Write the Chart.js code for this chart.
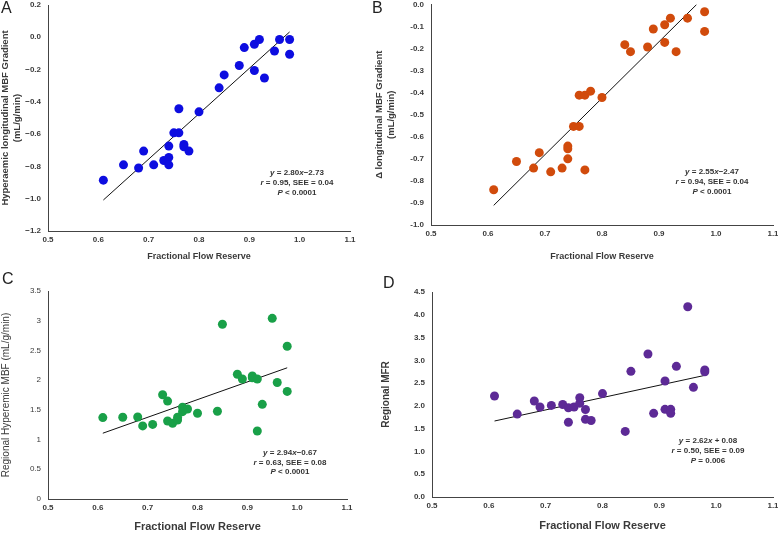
<!DOCTYPE html>
<html>
<head>
<meta charset="utf-8">
<script src="https://cdn.jsdelivr.net/npm/chart.js@4.4.1/dist/chart.umd.min.js"></script>
<style>
  body { margin: 0; background: #fff; }
  #wrap { position: relative; width: 778px; height: 534px; overflow: hidden; font-family: "Liberation Sans", Arial, sans-serif; }
  .panel { position: absolute; }
  .letter { position: absolute; font-size: 16px; line-height: 16px; color: #222; }
  .note { position: absolute; width: 130px; text-align: center; font-size: 8px; line-height: 10px; font-weight: bold; color: #333; }
</style>
</head>
<body>
<div id="wrap">
  <div class="panel" style="left:0;top:0;width:374px;height:265px"><canvas id="chartA"></canvas></div>
  <div class="panel" style="left:374px;top:0;width:404px;height:265px"><canvas id="chartB"></canvas></div>
  <div class="panel" style="left:0;top:262px;width:374px;height:272px"><canvas id="chartC"></canvas></div>
  <div class="panel" style="left:380px;top:262px;width:398px;height:272px"><canvas id="chartD"></canvas></div>

  <div class="letter" style="left:1px;top:0px">A</div>
  <div class="letter" style="left:372px;top:0px">B</div>
  <div class="letter" style="left:2px;top:271px">C</div>
  <div class="letter" style="left:383px;top:275px">D</div>

  <div class="note" style="left:232px;top:168px"><i>y</i> = 2.80<i>x</i>−2.73<br><i>r</i> = 0.95, SEE = 0.04<br><i>P</i> &lt; 0.0001</div>
  <div class="note" style="left:647px;top:167px"><i>y</i> = 2.55<i>x</i>−2.47<br><i>r</i> = 0.94, SEE = 0.04<br><i>P</i> &lt; 0.0001</div>
  <div class="note" style="left:225px;top:448px;line-height:9.5px"><i>y</i> = 2.94<i>x</i>−0.67<br><i>r</i> = 0.63, SEE = 0.08<br><i>P</i> &lt; 0.0001</div>
  <div class="note" style="left:643px;top:436px"><i>y</i> = 2.62<i>x</i> + 0.08<br><i>r</i> = 0.50, SEE = 0.09<br><i>P</i> = 0.006</div>
</div>

<script>
// ticks
const ffrTicks = [0.5, 0.6, 0.7, 0.8, 0.9, 1.0, 1.1];
const ticksA = [-1.2, -1.0, -0.8, -0.6, -0.4, -0.2, 0.0, 0.2];
const ticksB = [-1.0, -0.9, -0.8, -0.7, -0.6, -0.5, -0.4, -0.3, -0.2, -0.1, 0.0];
const ticksC = [0, 0.5, 1, 1.5, 2, 2.5, 3, 3.5];
const ticksD = [0.0, 0.5, 1.0, 1.5, 2.0, 2.5, 3.0, 3.5, 4.0, 4.5];

// A - hyperaemic longitudinal MBF gradient
const ffrA = [0.61, 0.65, 0.68, 0.69, 0.71, 0.73, 0.74, 0.74, 0.74, 0.75, 0.76, 0.76, 0.77, 0.77, 0.78, 0.80, 0.84, 0.85, 0.88, 0.89, 0.91, 0.91, 0.92, 0.93, 0.95, 0.96, 0.98, 0.98];
const gradA = [-0.885, -0.79, -0.81, -0.705, -0.79, -0.763, -0.744, -0.79, -0.674, -0.592, -0.592, -0.443, -0.664, -0.678, -0.705, -0.462, -0.313, -0.233, -0.175, -0.064, -0.043, -0.206, -0.014, -0.252, -0.085, -0.014, -0.014, -0.105];
const fitAx = [0.61, 0.98];
const fitAy = [-1.008, 0.033];

// B - delta longitudinal MBF gradient
const ffrB = [0.61, 0.65, 0.68, 0.69, 0.71, 0.73, 0.74, 0.74, 0.74, 0.75, 0.76, 0.76, 0.77, 0.77, 0.78, 0.80, 0.84, 0.85, 0.88, 0.89, 0.91, 0.91, 0.92, 0.93, 0.95, 0.98, 0.98];
const gradB = [-0.84, -0.712, -0.742, -0.672, -0.759, -0.742, -0.70, -0.642, -0.654, -0.553, -0.553, -0.411, -0.411, -0.75, -0.393, -0.422, -0.182, -0.214, -0.193, -0.111, -0.092, -0.172, -0.062, -0.214, -0.062, -0.033, -0.122];
const fitBx = [0.61, 0.966];
const fitBy = [-0.911, 0.0];

// C - regional hyperemic MBF
const ffrC = [0.61, 0.65, 0.68, 0.69, 0.71, 0.73, 0.74, 0.74, 0.75, 0.76, 0.76, 0.77, 0.77, 0.78, 0.80, 0.84, 0.85, 0.88, 0.89, 0.91, 0.91, 0.92, 0.92, 0.93, 0.95, 0.96, 0.98, 0.98];
const mbfC = [1.37, 1.375, 1.38, 1.23, 1.255, 1.754, 1.648, 1.313, 1.274, 1.375, 1.33, 1.543, 1.47, 1.514, 1.442, 1.476, 2.94, 2.10, 2.02, 2.07, 2.04, 2.02, 1.145, 1.593, 3.04, 1.96, 2.57, 1.81];
const fitCx = [0.61, 0.98];
const fitCy = [1.107, 2.208];

// D - regional MFR
const ffrD = [0.61, 0.65, 0.68, 0.69, 0.71, 0.73, 0.74, 0.74, 0.75, 0.76, 0.76, 0.77, 0.77, 0.78, 0.80, 0.84, 0.85, 0.88, 0.89, 0.91, 0.91, 0.92, 0.92, 0.93, 0.95, 0.96, 0.98, 0.98];
const mfrD = [2.217, 1.82, 2.107, 1.975, 2.01, 2.03, 1.96, 1.64, 1.975, 2.18, 2.06, 1.92, 1.705, 1.68, 2.27, 1.44, 2.758, 3.138, 1.836, 2.546, 1.924, 1.924, 1.836, 2.868, 4.177, 2.407, 2.79, 2.75];
const fitDx = [0.61, 0.98];
const fitDy = [1.668, 2.67];

const FONT = '"Liberation Sans", Arial, sans-serif';
const INK = '#3a3a3a';

function pares(xs, ys) {
  return xs.map((x, i) => ({ x, y: ys[i] }));
}

function crearPanel(id, p) {
  const ctx = document.getElementById(id).getContext('2d');
  return new Chart(ctx, {
    type: 'scatter',
    data: {
      datasets: [
        {
          data: pares(p.x, p.y),
          backgroundColor: p.color,
          borderWidth: 0,
          pointRadius: 4.5,
          pointHoverRadius: 4.5
        },
        {
          data: pares(p.fitX, p.fitY),
          showLine: true,
          borderColor: '#111',
          borderWidth: 1,
          pointRadius: 0,
          fill: false
        }
      ]
    },
    options: {
      responsive: true,
      maintainAspectRatio: false,
      animation: false,
      events: [],
      layout: { padding: { top: p.padTop, right: p.padRight, left: 0, bottom: 0 } },
      plugins: { legend: { display: false }, tooltip: { enabled: false } },
      scales: {
        x: {
          type: 'linear',
          min: 0.5,
          max: 1.1,
          afterBuildTicks: (s) => { s.ticks = ffrTicks.map(v => ({ value: v })); },
          afterFit: (s) => { s.height = p.xHeight; s.paddingLeft = 0; s.paddingRight = 0; },
          grid: { display: false, drawTicks: false },
          border: { display: true, color: '#444', width: 1 },
          ticks: {
            padding: 4,
            color: INK,
            font: { family: FONT, size: 8, weight: 'bold' },
            maxRotation: 0,
            callback: (v) => v.toFixed(1)
          },
          title: {
            display: true,
            text: 'Fractional Flow Reserve',
            color: INK,
            font: { family: FONT, size: p.xTitleSize, weight: 'bold' },
            padding: { top: 0, bottom: p.xTitlePad }
          }
        },
        y: {
          type: 'linear',
          min: p.yTicks[0],
          max: p.yTicks[p.yTicks.length - 1],
          afterBuildTicks: (s) => { s.ticks = p.yTicks.map(v => ({ value: v })); },
          afterFit: (s) => { s.width = p.yWidth; s.paddingTop = 0; s.paddingBottom = 0; },
          grid: { display: false, drawTicks: false },
          border: { display: true, color: '#444', width: 1 },
          ticks: {
            padding: 7,
            color: INK,
            font: { family: FONT, size: 8, weight: p.yTickWeight },
            callback: p.yFormat
          },
          title: {
            display: true,
            text: p.yTitle,
            color: INK,
            font: { family: FONT, size: p.yTitleSize, weight: p.yTitleWeight, lineHeight: 1.2 },
            padding: { top: 0, bottom: 0 }
          }
        }
      }
    }
  });
}

document.addEventListener('DOMContentLoaded', () => {
  crearPanel('chartA', {
    x: ffrA, y: gradA, fitX: fitAx, fitY: fitAy, color: '#0d0de0',
    yTicks: ticksA,
    yFormat: (v) => (v < -0.001 ? '\u2212' + Math.abs(v).toFixed(1) : Math.abs(v).toFixed(1)),
    yTitle: ['Hyperaemic longitudinal MBF Gradient', '(mL/g/min)'],
    yTitleSize: 9.5, yTitleWeight: 'bold', yTickWeight: 'bold',
    padTop: 5, padRight: 24, yWidth: 48, xHeight: 34,
    xTitleSize: 9, xTitlePad: 3
  });
  crearPanel('chartB', {
    x: ffrB, y: gradB, fitX: fitBx, fitY: fitBy, color: '#d14b0c',
    yTicks: ticksB,
    yFormat: (v) => (v < -0.001 ? '-' + Math.abs(v).toFixed(1) : Math.abs(v).toFixed(1)),
    yTitle: ['\u0394 longitudinal MBF Gradient', '(mL/g/min)'],
    yTitleSize: 9.5, yTitleWeight: 'bold', yTickWeight: 'bold',
    padTop: 4, padRight: 5, yWidth: 57, xHeight: 40,
    xTitleSize: 9, xTitlePad: 3
  });
  crearPanel('chartC', {
    x: ffrC, y: mbfC, fitX: fitCx, fitY: fitCy, color: '#19a048',
    yTicks: ticksC,
    yFormat: (v) => String(v),
    yTitle: 'Regional Hyperemic MBF (mL/g/min)',
    yTitleSize: 10, yTitleWeight: 'normal', yTickWeight: 'normal',
    padTop: 29, padRight: 27, yWidth: 48, xHeight: 35,
    xTitleSize: 11, xTitlePad: 0
  });
  crearPanel('chartD', {
    x: ffrD, y: mfrD, fitX: fitDx, fitY: fitDy, color: '#5d2a96',
    yTicks: ticksD,
    yFormat: (v) => v.toFixed(1),
    yTitle: 'Regional MFR',
    yTitleSize: 10, yTitleWeight: 'bold', yTickWeight: 'bold',
    padTop: 30, padRight: 5, yWidth: 52, xHeight: 37,
    xTitleSize: 11, xTitlePad: 1
  });
});
</script>
</body>
</html>
